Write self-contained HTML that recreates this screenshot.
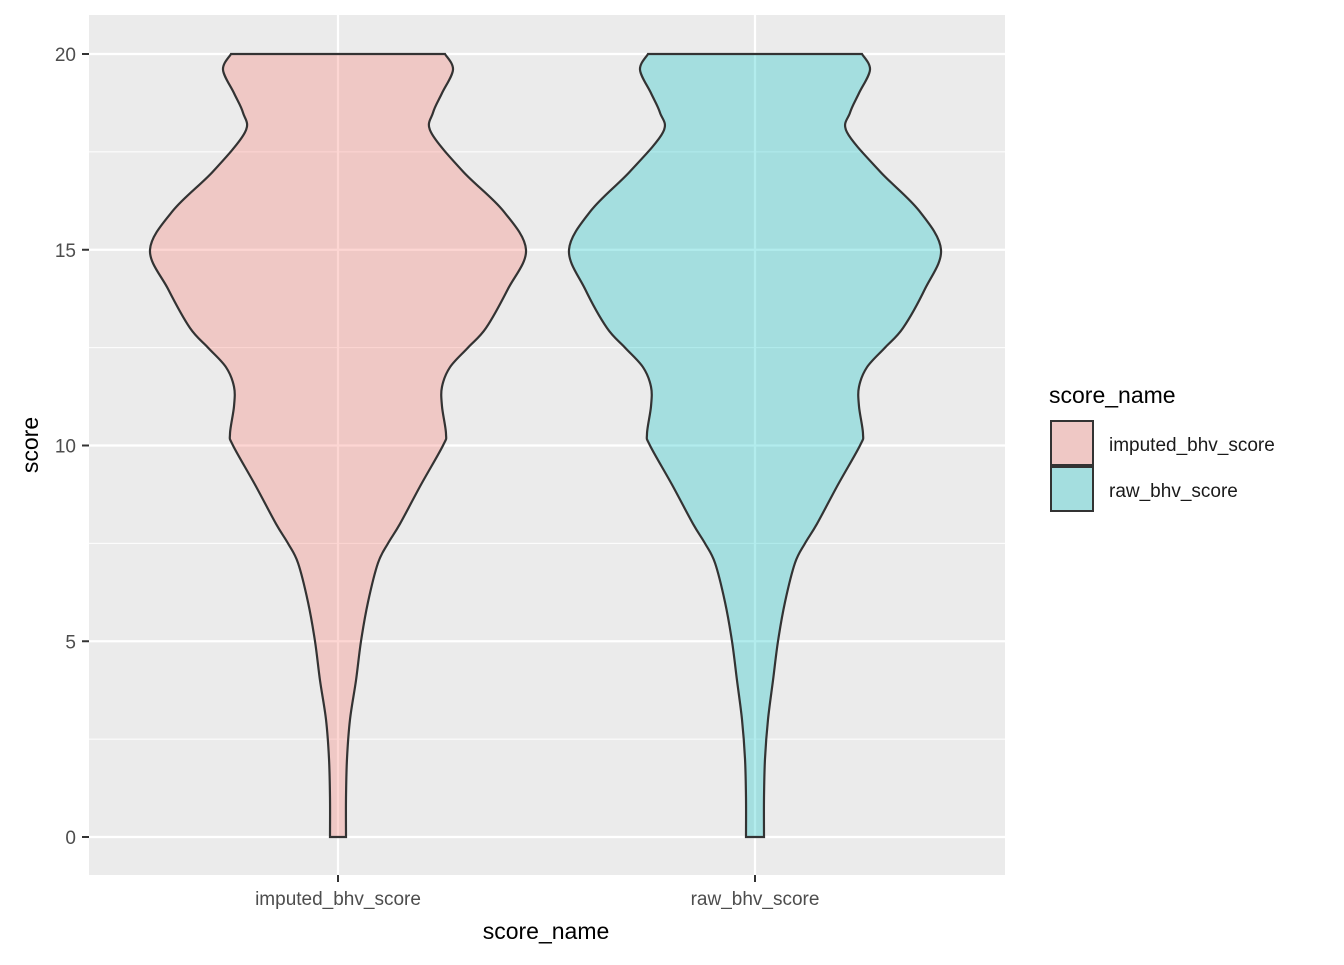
<!DOCTYPE html>
<html><head><meta charset="utf-8"><style>
body{margin:0;background:#fff;}
svg text{font-family:"Liberation Sans",Arial,sans-serif;}
</style></head><body>
<svg id="chart" width="1344" height="960" xmlns="http://www.w3.org/2000/svg">
<rect x="89" y="15" width="916" height="860" fill="#EBEBEB"/>
<g id="grid"></g>
<g id="violins"></g>
<g id="axes"></g>
<text x="546" y="939" font-size="23" text-anchor="middle" fill="#000">score_name</text>
<text x="38" y="445" font-size="23" text-anchor="middle" fill="#000" transform="rotate(-90 38 445)">score</text>
<g>
<text x="1049" y="403" font-size="23" fill="#000">score_name</text>
<g>
<rect x="1050" y="420" width="44" height="46" fill="#EBEBEB"/>
<rect x="1051" y="421" width="42" height="44" fill="#F8766D" fill-opacity="0.3" stroke="#333" stroke-width="2"/>
<text x="1109" y="451" font-size="19" fill="#1a1a1a">imputed_bhv_score</text></g>
<g>
<rect x="1050" y="466" width="44" height="46" fill="#EBEBEB"/>
<rect x="1051" y="467" width="42" height="44" fill="#00BFC4" fill-opacity="0.3" stroke="#333" stroke-width="2"/>
<text x="1109" y="497" font-size="19" fill="#1a1a1a">raw_bhv_score</text></g>
</g>
</svg>
<script>
const categories=["imputed_bhv_score","raw_bhv_score"];
const colors=["#F8766D","#00BFC4"];
const yTicks=[0,5,10,15,20];
const yMinor=[2.5,7.5,12.5,17.5];
const densityY=[0,1,2,3,4,5,6,7,7.5,8,9,10,10.3,11,11.5,12,12.5,13,14,15,16,17,18,18.5,19,19.6,20];
const densityImputed=[8,8,9,12,18,23,30,40,50,62,83,105,108,104,104,112,130,148,170,188,165,125,93,95,104,115,107];
const densityRaw=[9,9,10,13,18,23,30,40,50,62,83,105,108,104,104,112,130,148,170,186,164,125,92,95,104,115,107];
const series=[densityImputed,densityRaw];
const NS="http://www.w3.org/2000/svg";
const yScale=v=>837-(v/20)*783;
const xScale=i=>[338,755][i];
const wScale=d=>d; // half-width in px from density
const grid=document.getElementById('grid');
function line(g,x1,y1,x2,y2,c,w){const l=document.createElementNS(NS,'line');l.setAttribute('x1',x1);l.setAttribute('y1',y1);l.setAttribute('x2',x2);l.setAttribute('y2',y2);l.setAttribute('stroke',c);l.setAttribute('stroke-width',w);g.appendChild(l);return l;}
yMinor.forEach(v=>{const l=line(grid,89,yScale(v),1005,yScale(v),'#fff',1.1);

});
yTicks.forEach(v=>{const l=line(grid,89,yScale(v),1005,yScale(v),'#fff',2.2);

});
categories.forEach((c,i)=>{const l=line(grid,xScale(i),15,xScale(i),875,'#fff',2.2);

});
function smooth(pts){let d='M'+pts[0][0]+','+pts[0][1];for(let i=0;i<pts.length-1;i++){const p0=pts[Math.max(0,i-1)],p1=pts[i],p2=pts[i+1],p3=pts[Math.min(pts.length-1,i+2)];
d+=' C'+(p1[0]+(p2[0]-p0[0])/6)+','+(p1[1]+(p2[1]-p0[1])/6)+' '+(p2[0]-(p3[0]-p1[0])/6)+','+(p2[1]-(p3[1]-p1[1])/6)+' '+p2[0]+','+p2[1];}return d;}
const vg=document.getElementById('violins');
series.forEach((s,i)=>{const cx=xScale(i);
const right=densityY.map((y,k)=>[cx+wScale(s[k]),yScale(y)]);
const left=densityY.map((y,k)=>[cx-wScale(s[k]),yScale(y)]).reverse();
let d=smooth(right);d+=' L'+left[0][0]+','+left[0][1]+smooth(left).replace(/^M[^ ]+/,'')+' Z';
const p=document.createElementNS(NS,'path');p.setAttribute('d',d);p.setAttribute('fill',colors[i]);p.setAttribute('fill-opacity','0.3');p.setAttribute('stroke','#333');p.setAttribute('stroke-width','2.2');


vg.appendChild(p);});
const ax=document.getElementById('axes');
yTicks.forEach(v=>{line(ax,82,yScale(v),89,yScale(v),'#333',2);
const t=document.createElementNS(NS,'text');t.setAttribute('x',76);t.setAttribute('y',yScale(v)+7);t.setAttribute('text-anchor','end');t.setAttribute('font-size','19');t.setAttribute('fill','#4d4d4d');t.textContent=v;


ax.appendChild(t);});
categories.forEach((c,i)=>{line(ax,xScale(i),875,xScale(i),882,'#333',2);
const t=document.createElementNS(NS,'text');t.setAttribute('x',xScale(i));t.setAttribute('y',905);t.setAttribute('text-anchor','middle');t.setAttribute('font-size','19');t.setAttribute('fill','#4d4d4d');t.textContent=c;


ax.appendChild(t);});
</script>
</body></html>
